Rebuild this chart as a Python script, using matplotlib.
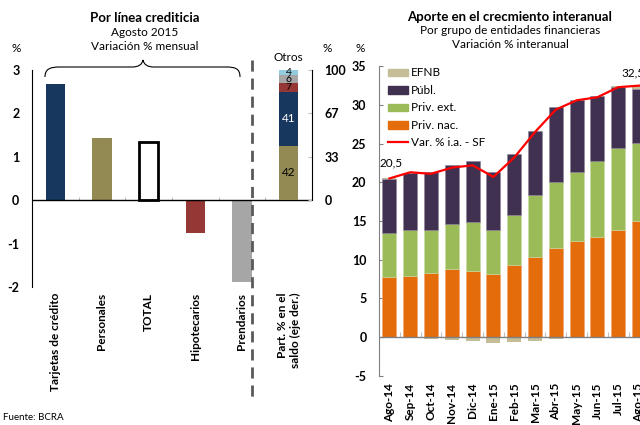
import matplotlib
matplotlib.use('Agg')
import matplotlib.pyplot as plt
from matplotlib.path import Path
from matplotlib.patches import PathPatch, Patch
from matplotlib.lines import Line2D
import numpy as np

plt.rcParams['font.family'] = ['Lato', 'DejaVu Sans']

# ---------------- data ----------------
lineas = ['Tarjetas de crédito', 'Personales', 'TOTAL', 'Hipotecarios', 'Prendarios']
var_mensual = [2.68, 1.43, 1.35, -0.75, -1.88]
colores_lineas = ['#17375E', '#938953', 'white', '#953735', '#A6A6A6']

part_label = 'Part. % en el\nsaldo (eje der.)'
part_values = [42, 41, 7, 6, 4]
part_colors = ['#938953', '#17375E', '#953735', '#A6A6A6', '#93CDDD']
part_text_colors = ['black', 'white', 'black', 'black', 'black']

meses = ['Ago-14', 'Sep-14', 'Oct-14', 'Nov-14', 'Dic-14', 'Ene-15', 'Feb-15',
         'Mar-15', 'Abr-15', 'May-15', 'Jun-15', 'Jul-15', 'Ago-15']
priv_nac = [7.7, 7.9, 8.3, 8.8, 8.6, 8.2, 9.35, 10.4, 11.5, 12.4, 12.9, 13.9, 15.0]
priv_ext = [5.8, 5.9, 5.5, 5.8, 6.25, 5.6, 6.45, 7.9, 8.6, 8.9, 9.8, 10.5, 10.1]
publ = [6.9, 7.4, 7.5, 7.6, 7.95, 7.5, 7.8, 8.3, 9.6, 9.4, 8.5, 7.9, 7.0]
efnb = [0.1, 0.0, -0.25, -0.4, -0.5, -0.75, -0.6, -0.45, -0.3, -0.15, -0.1, 0.1, 0.3]
var_ia = [20.5, 21.3, 21.1, 21.9, 22.2, 20.7, 23.2, 26.5, 29.4, 30.6, 31.0, 32.3, 32.5]

# ---------------- figure ----------------
W, H = 640, 425
fig = plt.figure(figsize=(6.4, 4.25), dpi=100)

def fx(px):
    return px / W

def fy(py):
    return 1 - py / H

TICK_FS = 9
# ---- left panel ----
axL = fig.add_axes([fx(32), fy(287), fx(312) - fx(32), fy(70) - fy(287)])
for i, (v, c) in enumerate(zip(var_mensual, colores_lineas)):
    if c == 'white':
        axL.bar(i, v, 0.40, facecolor='white', edgecolor='black', linewidth=2, zorder=3)
    else:
        axL.bar(i, v, 0.42, color=c, zorder=3)
axL.set_xlim(-0.5, 5.5)
axL.set_ylim(-2, 3)
axL.axhline(0, color='black', lw=1, zorder=4)
axL.vlines(np.arange(0.5, 5.5, 1), 0, 0.08, color='#BFBFBF', lw=0.8, zorder=2)
for s in ['top', 'right', 'bottom']:
    axL.spines[s].set_visible(False)
axL.spines['left'].set_color('black')
axL.spines['left'].set_linewidth(0.8)
axL.set_yticks([-2, -1, 0, 1, 2, 3])
axL.set_yticklabels(['-2', '-1', '0', '1', '2', '3'], fontweight='bold', fontsize=TICK_FS)
axL.tick_params(axis='y', length=0, pad=9)
axL.set_xticks(list(range(6)))
axL.set_xticklabels(lineas + [part_label], rotation=90, fontweight='bold', fontsize=8.5,
                    va='top', ha='center', multialignment='right')
axL.tick_params(axis='x', length=0, pad=4)

axS = axL.twinx()
axS.set_ylim(-200 / 3, 100)
bottom = 0
for v, c, tc in zip(part_values, part_colors, part_text_colors):
    axS.bar(5, v, 0.42, bottom=bottom, color=c, zorder=3)
    fs = 8.5 if v > 20 else 7.5
    axS.text(5, bottom + v / 2, str(v), ha='center', va='center', fontsize=fs, color=tc, zorder=5)
    bottom += v
axS.text(5, 105, 'Otros', ha='center', va='bottom', fontsize=8.5)
for s in ['top', 'left', 'bottom']:
    axS.spines[s].set_visible(False)
axS.spines['right'].set_bounds(0, 100)
axS.spines['right'].set_color('black')
axS.spines['right'].set_linewidth(0.8)
axS.set_yticks([0, 100 / 3, 200 / 3, 100])
axS.set_yticklabels(['0', '33', '67', '100'], fontweight='bold', fontsize=TICK_FS)
axS.tick_params(axis='y', length=3, direction='in', color='#BFBFBF', pad=9)

# brace
verts = [(45, 77), (45, 69), (50, 67), (60, 67), (132, 67), (138, 67), (142, 65), (143, 60),
         (144, 65), (148, 67), (154, 67), (226, 67), (236, 67), (240, 69), (240, 77)]
codes = [Path.MOVETO, Path.CURVE4, Path.CURVE4, Path.CURVE4, Path.LINETO,
         Path.CURVE4, Path.CURVE4, Path.CURVE4, Path.CURVE4, Path.CURVE4, Path.CURVE4,
         Path.LINETO, Path.CURVE4, Path.CURVE4, Path.CURVE4]
pv = [(fx(a), fy(b)) for a, b in verts]
fig.patches.append(PathPatch(Path(pv, codes), transform=fig.transFigure, fill=False,
                             edgecolor='black', lw=0.8))

# dashed separator
fig.lines.append(Line2D([fx(252), fx(252)], [fy(60), fy(400)], transform=fig.transFigure,
                        color='#595959', lw=2, linestyle=(0, (4, 2.5))))

# ---- right panel ----
axC = fig.add_axes([fx(379), fy(375.7), (649.4 - 379) / W, (375.7 - 66.3) / H])
xm = np.arange(len(meses))
pn = np.array(priv_nac)
pe = np.array(priv_ext)
pu = np.array(publ)
ef = np.array(efnb)
bw = 0.68
axC.bar(xm, pn, bw, color='#E46C0A', edgecolor='#F2A36B', lw=0.4, zorder=3)
axC.bar(xm, pe, bw, bottom=pn, color='#9BBB59', edgecolor='#C9DCA6', lw=0.4, zorder=3)
axC.bar(xm, pu, bw, bottom=pn + pe, color='#403151', edgecolor='#8C8298', lw=0.4, zorder=3)
ef_bottom = np.where(ef > 0, pn + pe + pu, 0)
axC.bar(xm, ef, bw, bottom=ef_bottom, color='#C4BD97', lw=0, zorder=3)
axC.plot(xm, var_ia, color='#FF0000', lw=1.6, zorder=5)
axC.set_xlim(-0.5, len(meses) - 0.5)
axC.set_ylim(-5, 35)
axC.axhline(0, color='#808080', lw=1, zorder=4)
axC.vlines(np.arange(0.5, len(meses), 1), 0, 0.6, color='#BFBFBF', lw=0.8, zorder=2)
for s in ['top', 'right', 'bottom']:
    axC.spines[s].set_visible(False)
axC.spines['left'].set_color('#808080')
axC.set_yticks(range(-5, 36, 5))
axC.set_yticklabels([str(v) for v in range(-5, 36, 5)], fontweight='bold', fontsize=TICK_FS)
axC.tick_params(axis='y', length=3, direction='in', color='#808080', pad=9)
axC.set_xticks(xm)
axC.set_xticklabels(meses, rotation=90, fontweight='bold', fontsize=8.5, va='top')
axC.tick_params(axis='x', length=0, pad=5)

axC.annotate('20,5', (0, var_ia[0]), xytext=(1, 7), textcoords='offset points',
             ha='center', va='bottom', fontsize=8.5)
axC.annotate('32,5', (len(meses) - 1, var_ia[-1]), xytext=(-4, 5), textcoords='offset points',
             ha='center', va='bottom', fontsize=8.5)

handles = [Patch(color='#C4BD97', label='EFNB'),
           Patch(color='#403151', label='Públ.'),
           Patch(color='#9BBB59', label='Priv. ext.'),
           Patch(color='#E46C0A', label='Priv. nac.'),
           Line2D([], [], color='#FF0000', lw=1.6, label='Var. % i.a. - SF')]
axC.legend(handles=handles, loc='upper left', bbox_to_anchor=(0.03, 1.0), frameon=False,
           fontsize=8.5, handlelength=1.7, handleheight=0.6, labelspacing=0.55,
           handletextpad=0.2, borderpad=0.1, borderaxespad=0)

# ---- texts ----
fig.text(fx(145), fy(18), 'Por línea crediticia', ha='center', va='center', fontsize=9.5, fontweight='bold')
fig.text(fx(145), fy(32), 'Agosto 2015', ha='center', va='center', fontsize=8.5)
fig.text(fx(145), fy(47), 'Variación % mensual', ha='center', va='center', fontsize=8.5)
fig.text(fx(510), fy(17), 'Aporte en el crecmiento interanual', ha='center', va='center', fontsize=9.5, fontweight='bold')
fig.text(fx(510), fy(31), 'Por grupo de entidades financieras', ha='center', va='center', fontsize=8.5)
fig.text(fx(510), fy(45), 'Variación % interanual', ha='center', va='center', fontsize=8.5)
fig.text(fx(16), fy(48), '%', ha='center', va='center', fontsize=8.5)
fig.text(fx(327), fy(48), '%', ha='center', va='center', fontsize=8.5)
fig.text(fx(360), fy(48), '%', ha='center', va='center', fontsize=8.5)
fig.text(fx(3), fy(418), 'Fuente: BCRA', ha='left', va='center', fontsize=7)

fig.savefig('out.png', dpi=100)
